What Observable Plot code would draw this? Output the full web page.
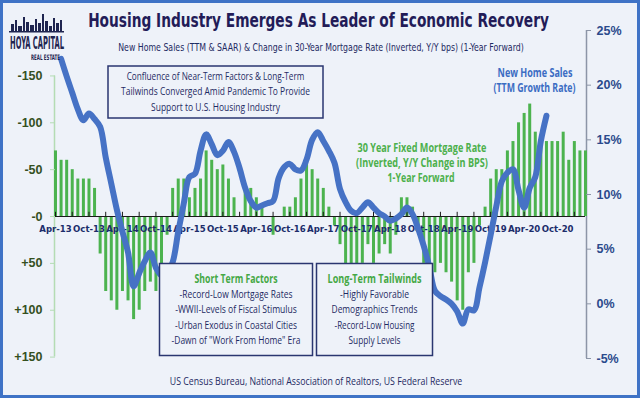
<!DOCTYPE html>
<html>
<head>
<meta charset="utf-8">
<script src="https://cdn.jsdelivr.net/npm/d3@7"></script>
<script src="https://cdn.jsdelivr.net/npm/@observablehq/plot@0.6"></script>
<style>
  html, body { margin: 0; padding: 0; background: #eef2f9; }
  #wrap { position: relative; width: 640px; height: 398px; background: #eef2f9; overflow: hidden; }
  #wrap > svg { position: absolute; left: 0; top: 0; }
  #border { position: absolute; left: 0; top: 0; width: 640px; height: 398px; box-sizing: border-box; border: 3px solid #3f73c6; pointer-events: none; }
</style>
</head>
<body>
<div id="wrap"><div id="border"></div></div>
<script>
// ---------- DATA ----------
// Month index 0 = Apr-13 ... 95 = Mar-21
const tickLabels = ["Apr-13","Oct-13","Apr-14","Oct-14","Apr-15","Oct-15","Apr-16","Oct-16",
                    "Apr-17","Oct-17","Apr-18","Oct-18","Apr-19","Oct-19","Apr-20","Oct-20"];
// 30Y mortgage rate Y/Y change (bps), 1-year forward; positive = rate increase (drawn downward, inverted axis)
const mortgageChange = [
  -70,-60,-60,-50,-40,-40,-40,-30, 40, 80, 90,100,
   80, 90,110,100, 80, 70, 80, 60, 20,-30,-40,-40,
  -20,-30,-40,-70,-60,-50,-55,-40,-20,  0,-30,-30,
  -20,-10,  0, 20,  0,-10,-10,-20,-40,-60,-50,-40,
  -30,-10, 10, 30, 60, 70, 60, 50, 30, 50, 40, 30,
   40, 20,-20,-20,-10, 10, 50, 50, 60, 50, 60, 70,
   90,100, 60, 50, 10,-10,-40,-50,-50,-70,-80,-100,
 -110,-120,-90,-80,-80,-80,-80,-90,-60,-80,-70,-70
];
// New home sales, TTM growth rate (%), starting May-13 (month index 1)
const salesStart = 1;
const salesGrowth = [
  22.4,20.8,19.3,17.8,16.8,17.4,16.9,16.2,13.4,11.0,8.6,
  6.6,4.7,1.6,2.8,3.9,4.7,3.3,2.6,2.8,3.8,6.6,9.2,
  11.6,11.9,14.0,15.5,14.6,13.6,14.0,14.8,13.9,12.4,10.6,9.4,
  8.8,9.0,9.2,9.4,11.5,12.5,12.8,12.3,12.2,13.2,15.0,15.7,
  14.9,14.0,12.9,10.5,9.3,8.5,8.3,8.8,9.3,8.8,8.3,8.0,
  7.6,7.8,8.2,8.8,8.2,6.9,5.3,3.4,1.2,0.7,0.4,0.0,
  -0.7,-1.8,-0.5,-0.6,1.5,3.8,6.3,8.9,11.2,12.0,12.3,10.4,
  8.8,10.6,11.6,14.9,17.2
];
const leftTicks = [-150,-100,-50,0,50,100,150];
const rightTicks = [-5,0,5,10,15,20,25];

// ---------- BUILD ----------
const bars = mortgageChange.map((v, i) => ({i, v}));
const sales = salesGrowth.map((v, k) => ({i: k + salesStart, v}));
const labelIdx = tickLabels.map((_, k) => k * 6);
const quarterIdx = d3.range(0, mortgageChange.length, 3);
// right axis (%) expressed in left-axis units (bps, inverted)
const toLeft = d3.scaleLinear().domain([-5, 25]).range([151.5, -198.5]);

const narrow = '"Liberation Sans Narrow","DejaVu Sans Condensed","Liberation Sans",sans-serif';

const chart = Plot.plot({
  width: 640, height: 398,
  marginTop: 30, marginBottom: 40, marginLeft: 55, marginRight: 55,
  style: {background: "transparent", fontFamily: '"Liberation Sans",Arial,sans-serif', overflow: "visible"},
  x: {type: "linear", domain: [0, mortgageChange.length - 1], axis: null, label: null},
  y: {domain: [toLeft(25), toLeft(-5)], reverse: true, axis: null, label: null},
  marks: [
    Plot.ruleX([0], {y1: leftTicks[0], y2: leftTicks[leftTicks.length - 1], stroke: "#b4dcb4", strokeWidth: 1.5, dx: -1}),
    Plot.ruleX([mortgageChange.length - 1], {y1: toLeft(rightTicks[0]), y2: toLeft(rightTicks[rightTicks.length - 1]), stroke: "#8c95a7", strokeWidth: 1.5, dx: 1}),
    Plot.ruleX(bars, {x: "i", y1: 0, y2: "v", stroke: "#4cb34f", strokeWidth: 3}),
    Plot.ruleY([0], {stroke: "#1a1a1a", strokeWidth: 1.2}),
    Plot.ruleX(quarterIdx, {x: d => d, y1: 0, y2: -4.5, stroke: "#1a1a1a", strokeWidth: 1}),
    Plot.text(tickLabels, {x: (d, k) => labelIdx[k], y: 0, dy: 12, text: d => d,
      fill: "#1c2d6b", fontWeight: "bold", fontSize: 9.5, fontFamily: narrow}),
    Plot.line(sales, {x: "i", y: d => toLeft(d.v), stroke: "#4672c5", strokeWidth: 6,
      curve: "catmull-rom", strokeLinecap: "round", strokeLinejoin: "round"}),
    Plot.axisY(leftTicks, {anchor: "left", tickSize: 5, tickPadding: 8, label: null,
      tickFormat: d => d > 0 ? "+" + d : d === 0 ? "-0" : String(d),
      stroke: "#b4dcb4", fill: "#34501f", fontSize: 12.5, fontWeight: "bold"}),
    Plot.axisY(rightTicks.map(toLeft), {anchor: "right", tickSize: 5, tickPadding: 6, label: null,
      tickFormat: d => Math.round(toLeft.invert(d)) + "%",
      stroke: "#8c95a7", fill: "#2b4a8c", fontSize: 12.5, fontWeight: "bold"})
  ]
});
const wrap = document.getElementById("wrap");
wrap.insertBefore(chart, wrap.firstChild);

// ---------- ANNOTATIONS (overlay) ----------
const bg = "#eef2f9", navy = "#1e2a63", green = "#45a845", blue = "#3b6cc3";
const ov = d3.create("svg").attr("width", 640).attr("height", 398)
  .style("font-family", '"Open Sans","Noto Sans",sans-serif');
wrap.insertBefore(ov.node(), document.getElementById("border"));
function txt(x, y, s, o = {}) {
  const g = ov.append("g").attr("transform", `translate(${x},${y})`);
  const t = g.append("text").text(s)
    .attr("text-anchor", o.anchor || "middle")
    .attr("font-size", o.size || 11)
    .attr("font-weight", o.weight || "normal")
    .attr("fill", o.fill || navy);
  if (o.family) t.attr("font-family", o.family);
  if (o.len) {
    const w = t.node().getComputedTextLength();
    if (w > 0) g.attr("transform", `translate(${x},${y}) scale(${o.len / w},1)`);
  }
  return t;
}
function box(x, y, w, h) {
  ov.append("rect").attr("x", x).attr("y", y).attr("width", w).attr("height", h)
    .attr("fill", bg).attr("stroke", "#2a3670").attr("stroke-width", 1.5);
}
// logo
const logo = ov.append("g").attr("fill", "#1f2550");
[[11,24,3,8],[15,20,2,12],[18,26,4,6],[23,17,2,15],[26,22,3,10],[30,25,4,7],[35,19,2,13],[38,23,3,9],[42,14,2,18],[45,21,3,11],[49,26,3,6],[53,18,2,14],[56,23,3,9],[60,20,2,12]]
  .forEach(([x,y,w,h]) => logo.append("rect").attr("x", x).attr("y", y).attr("width", w).attr("height", h));
ov.append("rect").attr("x", 9).attr("y", 31).attr("width", 55).attr("height", 1.5).attr("fill", "#1f2550");
txt(37, 49, "HOYA CAPITAL", {size: 17, weight: "bold", fill: "#1f2550", family: narrow, len: 54});
txt(45.5, 60, "REAL ESTATE", {size: 7.5, weight: "bold", fill: "#1f2550", family: narrow, len: 29});

// title & subtitle
txt(318.5, 27, "Housing Industry Emerges As Leader of Economic Recovery", {size: 20, weight: "bold", fill: "#231c58", family: narrow, len: 461});
txt(321, 51, "New Home Sales (TTM & SAAR) & Change in 30-Year Mortgage Rate (Inverted, Y/Y bps) (1-Year Forward)", {size: 11, family: narrow, len: 406});

// box 1
box(108, 66, 215, 52);
txt(215.5, 80, "Confluence of Near-Term Factors & Long-Term", {size: 11.5, len: 178});
txt(215.5, 95, "Tailwinds Converged Amid Pandemic To Provide", {size: 11.5, len: 189});
txt(215.5, 110.5, "Support to U.S. Housing Industry", {size: 11.5, len: 129});

// box 2
box(159.5, 263.5, 153, 92);
txt(236, 283, "Short Term Factors", {size: 12, weight: "bold", fill: green, len: 83});
txt(236, 298, "-Record-Low Mortgage Rates", {size: 11.5, len: 113});
txt(236, 312.5, "-WWII-Levels of Fiscal Stimulus", {size: 11.5, len: 122});
txt(236, 328.5, "-Urban Exodus in Coastal Cities", {size: 11.5, len: 122});
txt(236, 343.5, "-Dawn of \"Work From Home\" Era", {size: 11.5, len: 129});

// box 3
box(316.5, 263.5, 116, 92);
txt(374.5, 283, "Long-Term Tailwinds", {size: 12, weight: "bold", fill: green, len: 94});
txt(374.5, 297.5, "-Highly Favorable", {size: 11.5, len: 69});
txt(374.5, 312.5, "Demographics Trends", {size: 11.5, len: 86});
txt(374.5, 328.5, "-Record-Low Housing", {size: 11.5, len: 80});
txt(374.5, 343.5, "Supply Levels", {size: 11.5, len: 52});

// series labels
txt(422, 152, "30 Year Fixed Mortgage Rate", {size: 11.5, weight: "bold", fill: "#4cb04c", len: 129});
txt(422, 166.5, "(Inverted, Y/Y Change in BPS)", {size: 11.5, weight: "bold", fill: "#4cb04c", len: 132});
txt(421, 181.5, "1-Year Forward", {size: 11.5, weight: "bold", fill: "#4cb04c", len: 67});
txt(535, 77, "New Home Sales", {size: 12, weight: "bold", fill: blue, len: 75});
txt(534.5, 91.5, "(TTM Growth Rate)", {size: 12, weight: "bold", fill: blue, len: 82});

// source
txt(316, 385, "US Census Bureau, National Association of Realtors, US Federal Reserve", {size: 11, len: 293});
</script>
</body>
</html>
